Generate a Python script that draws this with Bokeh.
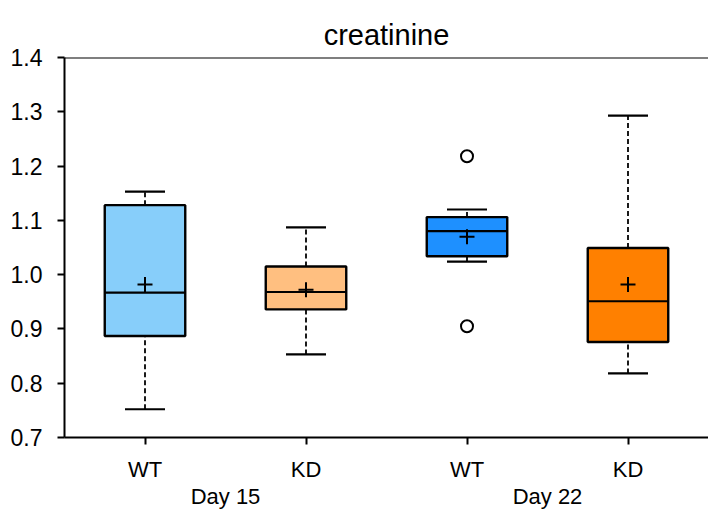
from bokeh.plotting import figure
from bokeh.models import (Range1d, FixedTicker, LinearAxis, Span, ColumnDataSource,
                          CustomJSTickFormatter)
from bokeh.embed import file_html
from bokeh.resources import INLINE

# ---- data ----
groups = ["Day 15", "Day 15", "Day 22", "Day 22"]
genotypes = ["WT", "KD", "WT", "KD"]
lower = [0.752, 0.853, 1.024, 0.818]
q1 = [0.887, 0.936, 1.034, 0.876]
median = [0.967, 0.968, 1.080, 0.951]
q3 = [1.128, 1.015, 1.106, 1.049]
upper = [1.153, 1.087, 1.120, 1.293]
mean = [0.982, 0.972, 1.070, 0.982]
colors = ["#87CEFA", "#FFBF80", "#1E90FF", "#FF8000"]
outlier_box = [2, 2]
outlier_values = [1.218, 0.905]
y_ticks = [0.7, 0.8, 0.9, 1.0, 1.1, 1.2, 1.3, 1.4]
title_text = "creatinine"

FONT = "Liberation Sans"
pos = list(range(len(genotypes)))
group_names = list(dict.fromkeys(groups))
group_pos = [sum(p for p, g in zip(pos, groups) if g == name) / groups.count(name)
             for name in group_names]

src = ColumnDataSource(dict(x=pos, lower=lower, q1=q1, median=median, q3=q3,
                            upper=upper, mean=mean, color=colors))

W, H = 708, 512
ML, MR, MT, MB = 64, 0, 57, 75
slot = 161.0
frame_w = W - ML - MR
x_start = -0.5
x_end = x_start + frame_w / slot
y_start, y_end = y_ticks[0], y_ticks[-1]

p = figure(width=W, height=H, output_backend="svg", toolbar_location=None,
           x_range=Range1d(x_start, x_end), y_range=Range1d(y_start, y_end),
           min_border_left=ML, min_border_right=MR, min_border_top=MT,
           min_border_bottom=MB, x_axis_location=None)
p.grid.visible = False
p.outline_line_color = None
p.background_fill_color = "white"
p.border_fill_color = "white"

p.title.text = title_text
p.title.align = "center"
p.title.vertical_align = "top"
p.title.text_font = FONT
p.title.text_font_size = "29px"
p.title.text_font_style = "normal"
p.title.text_color = "black"
p.title.standoff = 10

# y axis
ya = p.yaxis[0]
ya.ticker = FixedTicker(ticks=y_ticks)
ya.formatter = CustomJSTickFormatter(code="return tick.toFixed(1);")
ya.major_tick_in = 0
ya.major_tick_out = 7
ya.minor_tick_line_color = None
ya.axis_line_width = 2
ya.major_tick_line_width = 2
ya.major_label_text_font = FONT
ya.major_label_text_font_size = "23px"
ya.major_label_text_color = "black"
ya.major_label_standoff = 15

# x axis: genotypes
xa = LinearAxis(ticker=FixedTicker(ticks=pos),
                major_label_overrides={p_: g for p_, g in zip(pos, genotypes)})
xa.major_tick_in = 0
xa.major_tick_out = 7
xa.minor_tick_line_color = None
xa.axis_line_width = 2
xa.major_tick_line_width = 2
xa.major_label_text_font = FONT
xa.major_label_text_font_size = "22px"
xa.major_label_text_color = "black"
xa.major_label_standoff = 12
p.add_layout(xa, "below")

# group axis
ga = LinearAxis(ticker=FixedTicker(ticks=group_pos),
                major_label_overrides={gp: g for gp, g in zip(group_pos, group_names)})
ga.axis_line_color = None
ga.major_tick_line_color = None
ga.minor_tick_line_color = None
ga.major_tick_in = 0
ga.major_tick_out = 0
ga.major_label_text_font = FONT
ga.major_label_text_font_size = "22px"
ga.major_label_text_color = "black"
ga.major_label_standoff = -1
p.add_layout(ga, "below")

# top border
p.add_layout(Span(location=y_end, dimension="width", line_color="black", line_width=2))

# whiskers
p.segment(x0="x", y0="q3", x1="x", y1="upper", source=src, line_color="black",
          line_width=1.8, line_dash="5 3")
p.segment(x0="x", y0="lower", x1="x", y1="q1", source=src, line_color="black",
          line_width=1.8, line_dash="5 3")
# caps
p.scatter(x="x", y="upper", source=src, marker="dash", size=40, line_color="black",
          line_width=2.2)
p.scatter(x="x", y="lower", source=src, marker="dash", size=40, line_color="black",
          line_width=2.2)
# boxes
p.vbar(x="x", bottom="q1", top="q3", width=0.5, source=src, fill_color="color",
       line_color="black", line_width=2.4)
# medians
p.vbar(x="x", bottom="median", top="median", width=0.5, source=src,
       fill_alpha=0, line_color="black", line_width=2.2)
# means
p.scatter(x="x", y="mean", source=src, marker="cross", size=15, line_color="black",
          line_width=2)
# outliers
p.scatter(x=outlier_box, y=outlier_values, marker="circle", size=12,
          fill_color="white", line_color="black", line_width=2)

open("out.html", "w").write(file_html(p, INLINE))
